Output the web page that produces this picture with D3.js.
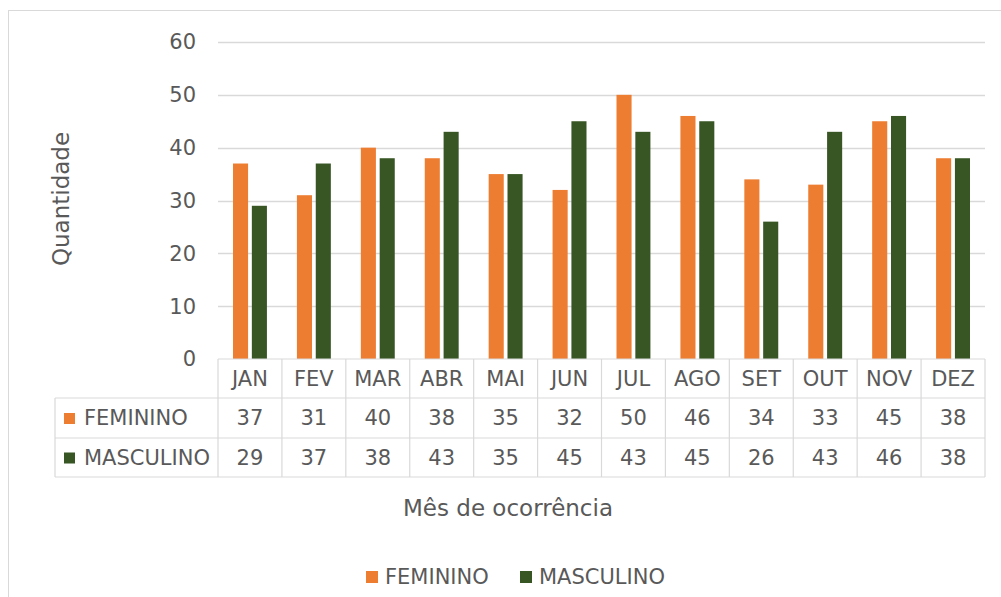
<!DOCTYPE html>
<html>
<head>
<meta charset="utf-8">
<script src="https://cdn.jsdelivr.net/npm/d3@7"></script>
<style>
  body { margin: 0; background: #fff; }
  svg text { font-family: "DejaVu Sans", sans-serif; fill: #595959; }
</style>
</head>
<body>
<svg class="chart" width="1001" height="597"></svg>
<script>
var months = ["JAN", "FEV", "MAR", "ABR", "MAI", "JUN", "JUL", "AGO", "SET", "OUT", "NOV", "DEZ"];
var feminino = [37, 31, 40, 38, 35, 32, 50, 46, 34, 33, 45, 38];
var masculino = [29, 37, 38, 43, 35, 45, 43, 45, 26, 43, 46, 38];
var yTicks = [0, 10, 20, 30, 40, 50, 60];
var seriesNames = ["FEMININO", "MASCULINO"];
var colors = ["#ED7D31", "#375623"];

var svg = d3.select(".chart");
var plotLeft = 218, plotRight = 985, plotTop = 42, plotBottom = 359;
var fs = "21px";

// outer chart frame
svg.append("rect")
    .attr("x", 8.5).attr("y", 10.5)
    .attr("width", 1010).attr("height", 600)
    .attr("fill", "none").attr("stroke", "#d9d9d9");

var series = [feminino, masculino];

var xScale = d3.scaleBand().domain(months).range([plotLeft, plotRight]);
var yScale = d3.scaleLinear().domain([0, 60]).range([plotBottom, plotTop]);
var inner = d3.scaleBand().domain([0, 1]).range([15, xScale.bandwidth() - 15]).paddingInner(0.2);

// gridlines
svg.append("g").selectAll("line")
    .data(yTicks.slice(1))
    .enter().append("line")
    .attr("x1", plotLeft).attr("x2", plotRight)
    .attr("y1", function (d) { return Math.round(yScale(d)) + 0.5; })
    .attr("y2", function (d) { return Math.round(yScale(d)) + 0.5; })
    .attr("stroke", "#d9d9d9").attr("stroke-width", 1.5);

// y tick labels
svg.append("g").selectAll("text")
    .data(yTicks)
    .enter().append("text")
    .attr("x", 196)
    .attr("y", function (d) { return yScale(d); })
    .attr("dy", "0.35em")
    .attr("text-anchor", "end")
    .style("font-size", fs)
    .text(function (d) { return d; });

// bars
series.forEach(function (vals, s) {
    svg.append("g")
        .attr("fill", colors[s])
        .selectAll("rect")
        .data(vals)
        .enter().append("rect")
        .attr("x", function (d, i) { return xScale(months[i]) + inner(s); })
        .attr("y", function (d) { return yScale(d); })
        .attr("width", inner.bandwidth())
        .attr("height", function (d) { return yScale(0) - yScale(d); });
});

// data table
var rowY = [359, 398, 438, 477];
var tableLeft = 55;
var grid = svg.append("g").attr("stroke", "#d9d9d9").attr("stroke-width", 1.2);
grid.append("line").attr("x1", plotLeft).attr("x2", plotRight).attr("y1", rowY[0]).attr("y2", rowY[0]);
rowY.slice(1).forEach(function (y) {
    grid.append("line").attr("x1", tableLeft).attr("x2", plotRight).attr("y1", y).attr("y2", y);
});
months.forEach(function (m) {
    grid.append("line").attr("x1", xScale(m)).attr("x2", xScale(m)).attr("y1", rowY[0]).attr("y2", rowY[3]);
});
grid.append("line").attr("x1", plotRight).attr("x2", plotRight).attr("y1", rowY[0]).attr("y2", rowY[3]);
grid.append("line").attr("x1", tableLeft).attr("x2", tableLeft).attr("y1", rowY[1]).attr("y2", rowY[3]);

svg.append("g").selectAll("text")
    .data(months)
    .enter().append("text")
    .attr("x", function (d) { return xScale(d) + xScale.bandwidth() / 2; })
    .attr("y", (rowY[0] + rowY[1]) / 2)
    .attr("dy", "0.35em")
    .attr("text-anchor", "middle")
    .style("font-size", fs)
    .text(function (d) { return d; });

series.forEach(function (vals, s) {
    var cy = (rowY[s + 1] + rowY[s + 2]) / 2;
    svg.append("rect")
        .attr("x", 64).attr("y", cy - 5)
        .attr("width", 11).attr("height", 11)
        .attr("fill", colors[s]);
    svg.append("text")
        .attr("x", 84).attr("y", cy)
        .attr("dy", "0.35em")
        .style("font-size", fs)
        .text(seriesNames[s]);
    svg.append("g").selectAll("text")
        .data(vals)
        .enter().append("text")
        .attr("x", function (d, i) { return xScale(months[i]) + xScale.bandwidth() / 2; })
        .attr("y", cy)
        .attr("dy", "0.35em")
        .attr("text-anchor", "middle")
        .style("font-size", fs)
        .text(function (d) { return d; });
});

// axis titles
svg.append("text")
    .attr("transform", "translate(69,199) rotate(-90)")
    .attr("text-anchor", "middle")
    .style("font-size", "23px")
    .text("Quantidade");

svg.append("text")
    .attr("x", 508).attr("y", 508)
    .attr("dy", "0.35em")
    .attr("text-anchor", "middle")
    .style("font-size", "23px")
    .text("Mês de ocorrência");

// legend
var legendX = [366, 520];
seriesNames.forEach(function (name, s) {
    svg.append("rect")
        .attr("x", legendX[s]).attr("y", 571)
        .attr("width", 12).attr("height", 12)
        .attr("fill", colors[s]);
    svg.append("text")
        .attr("x", legendX[s] + 19).attr("y", 577)
        .attr("dy", "0.35em")
        .style("font-size", fs)
        .text(name);
});
</script>
</body>
</html>
